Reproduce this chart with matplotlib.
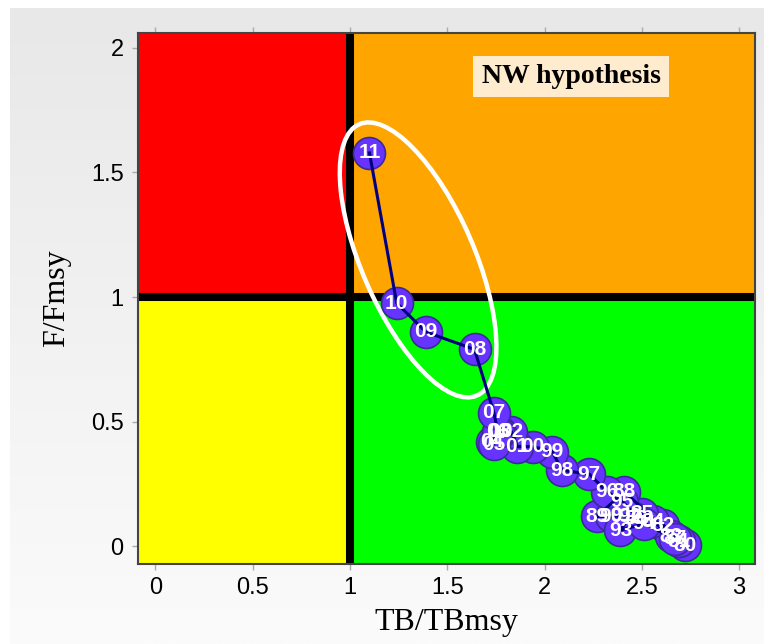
import numpy as np
import matplotlib.pyplot as plt
from matplotlib.patches import Ellipse, Rectangle
from matplotlib.colors import LinearSegmentedColormap

# year labels and Kobe trajectory (TB/TBmsy, F/Fmsy)
years = ['80', '81', '82', '83', '84', '85', '86', '87', '88', '89',
         '90', '91', '92', '93', '94', '95', '96', '97', '98', '99',
         '00', '01', '02', '03', '04', '05', '06', '07', '08', '09',
         '10', '11']
tb_ratio = [2.72, 2.69, 2.61, 2.65, 2.56, 2.50, 2.47, 2.67, 2.41, 2.27,
            2.34, 2.40, 2.44, 2.39, 2.51, 2.40, 2.32, 2.23, 2.09, 2.04,
            1.94, 1.86, 1.83, 1.77, 1.73, 1.74, 1.76, 1.74, 1.64, 1.39,
            1.24, 1.10]
f_ratio = [0.005, 0.02, 0.085, 0.04, 0.10, 0.13, 0.11, 0.03, 0.22, 0.12,
           0.12, 0.125, 0.12, 0.065, 0.09, 0.18, 0.22, 0.29, 0.305, 0.38,
           0.40, 0.40, 0.46, 0.46, 0.42, 0.41, 0.46, 0.535, 0.79, 0.86,
           0.976, 1.578]

xticks = [0, 0.5, 1, 1.5, 2, 2.5, 3]
yticks = [0, 0.5, 1, 1.5, 2]

narrow = ['Liberation Sans Narrow', 'Liberation Sans', 'DejaVu Sans']
serif = ['Liberation Serif', 'DejaVu Serif']

fig = plt.figure(figsize=(7.64, 6.44), dpi=100)

# grey gradient panel behind everything
bg = fig.add_axes([10 / 764, 0, 1 - 10 / 764, 1 - 8 / 644])
grad = np.linspace(0, 1, 256).reshape(-1, 1)
cmap = LinearSegmentedColormap.from_list('bg', ['#e8e8e8', '#fbfbfb'])
bg.imshow(grad, aspect='auto', cmap=cmap, extent=[0, 1, 0, 1], origin='upper')
bg.axis('off')

ax = fig.add_axes([137.5 / 764, 1 - 563.6 / 644, (755 - 137.5) / 764, (563.6 - 32.5) / 644])
ax.set_xlim(-0.0925, 3.082)
ax.set_ylim(-0.069, 2.061)

# quadrants
ax.add_patch(Rectangle((-1, 1), 2, 2, color='#ff0000', zorder=0))
ax.add_patch(Rectangle((1, 1), 3, 2, color='#ffa500', zorder=0))
ax.add_patch(Rectangle((-1, -1), 2, 2, color='#ffff00', zorder=0))
ax.add_patch(Rectangle((1, -1), 3, 2, color='#00ff00', zorder=0))
ax.axvline(1, color='black', lw=5.8, zorder=1)
ax.axhline(1, color='black', lw=5.8, zorder=1)

ax.add_patch(Ellipse((1.35, 1.149), 1.25, 0.55, angle=121.6,
                     fill=False, ec='white', lw=3.2, zorder=2))

ax.plot(tb_ratio, f_ratio, 'o', ms=23, mfc='#6633ff', mec='#3b2a9a',
        mew=1.2, ls='none', zorder=3)
ax.plot(tb_ratio, f_ratio, color='#000080', lw=2.2, zorder=4)
for lab, x, y in zip(years, tb_ratio, f_ratio):
    ax.text(x, y, lab, color='white', ha='center', va='center',
            fontsize=15, fontweight='bold', family=narrow, zorder=5)

ax.text(2.136, 1.885, 'NW hypothesis', ha='center', va='center',
        fontsize=20, fontweight='bold', family=serif, zorder=6,
        bbox=dict(boxstyle='square,pad=0.3', fc='#ffebcd', ec='none'))

ax.set_xticks(xticks)
ax.set_yticks(yticks)
ax.set_xticklabels(['%g' % t for t in xticks])
ax.set_yticklabels(['%g' % t for t in yticks])
for lbl in ax.get_xticklabels() + ax.get_yticklabels():
    lbl.set_family(narrow)
    lbl.set_fontsize(17)
ax.tick_params(axis='both', direction='out', length=4, width=1,
               color='#aaaaaa', pad=6)
ax.tick_params(axis='x', top=True)
for s in ax.spines.values():
    s.set_color('#444444')
    s.set_linewidth(1.5)

ax.set_xlabel('TB/TBmsy', family=serif, fontsize=23, labelpad=6)
ax.set_ylabel('F/Fmsy', family=serif, fontsize=23, labelpad=14)

fig.savefig('out.png', dpi=100)
